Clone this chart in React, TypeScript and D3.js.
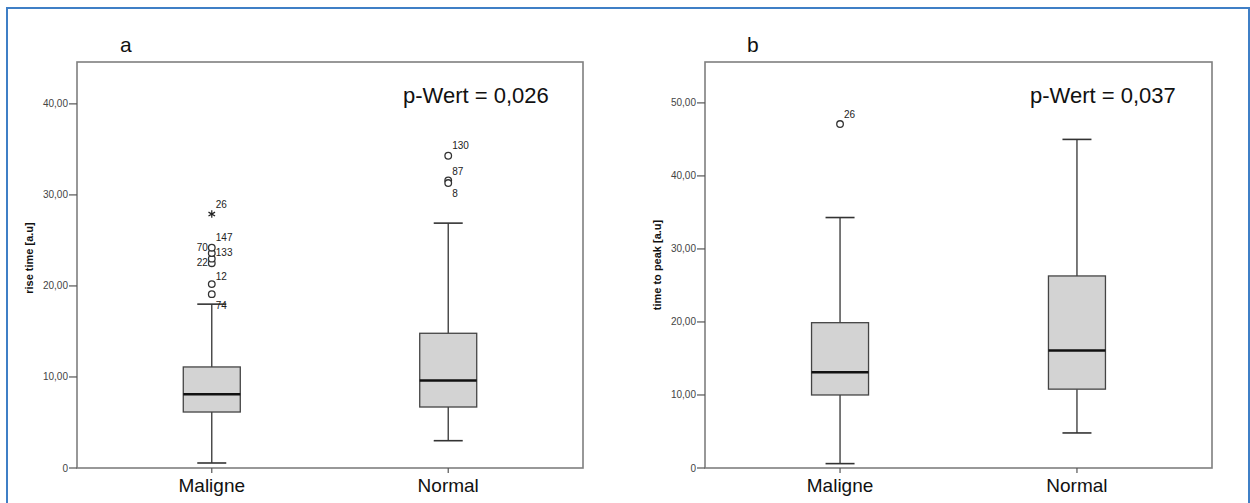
import React from "react";
import * as d3 from "d3";

// ---------- data ----------
const categories = ["Maligne", "Normal"];

// panel a: rise time
const riseLowerWhisker = [0.55, 3.0];
const riseQ1 = [6.15, 6.7];
const riseMedian = [8.1, 9.6];
const riseQ3 = [11.1, 14.8];
const riseUpperWhisker = [18.0, 26.9];
const riseOutlierCat = [0, 0, 0, 0, 0, 0, 0, 1, 1, 1];
const riseOutlierValue = [19.1, 20.2, 22.5, 23.0, 23.6, 24.2, 27.9, 34.3, 31.6, 31.3];
const riseOutlierId = ["74", "12", "22", "133", "70", "147", "26", "130", "87", "8"];
const riseOutlierExtreme = [false, false, false, false, false, false, true, false, false, false];
// label placement: side (1 right, -1 left) and vertical offset
const riseLabelSide = [1, 1, -1, 1, -1, 1, 1, 1, 1, 1];
const riseLabelDy = [11, -8, -1, -6, -6, -10, -10, -10, -9, 10];

// panel b: time to peak
const ttpLowerWhisker = [0.6, 4.8];
const ttpQ1 = [10.0, 10.8];
const ttpMedian = [13.1, 16.1];
const ttpQ3 = [19.9, 26.3];
const ttpUpperWhisker = [34.3, 45.0];
const ttpOutlierCat = [0];
const ttpOutlierValue = [47.1];
const ttpOutlierId = ["26"];
const ttpOutlierExtreme = [false];
const ttpLabelSide = [1];
const ttpLabelDy = [-10];

const riseTicks = [0, 10, 20, 30, 40];
const ttpTicks = [0, 10, 20, 30, 40, 50];
const fmt = (v: number) => (v === 0 ? "0" : v.toFixed(2).replace(".", ","));

type PanelProps = {
  x0: number; x1: number; y0: number; y1: number;
  yMax: number; ticks: number[]; yTitle: string; titleX: number; titleY: number;
  letter: string; letterX: number; pText: string; pX: number;
  lw: number[]; q1: number[]; med: number[]; q3: number[]; uw: number[];
  oCat: number[]; oVal: number[]; oId: string[]; oExt: boolean[]; oSide: number[]; oDy: number[];
};

const FONT = "'Liberation Sans', Arial, sans-serif";

function Panel(p: PanelProps) {
  const y = d3.scaleLinear().domain([0, p.yMax]).range([p.y1, p.y0]);
  const x = d3.scalePoint<string>().domain(categories).range([p.x0, p.x1]).padding(0.57);
  const boxW = 57;
  const capW = 29;
  const star = d3.symbol().type(d3.symbolAsterisk).size(40)();
  return (
    <g>
      <text x={p.letterX} y={52} fontFamily={FONT} fontSize={21} fill="#111">{p.letter}</text>
      {/* frame */}
      <rect x={p.x0} y={p.y0} width={p.x1 - p.x0} height={p.y1 - p.y0} fill="none" stroke="#7f7f7f" strokeWidth={1.6} />
      {/* y ticks */}
      {p.ticks.map((t) => (
        <g key={t}>
          <line x1={p.x0 - 8} x2={p.x0} y1={y(t)} y2={y(t)} stroke="#555" strokeWidth={1.2} />
          <text x={p.x0 - 9} y={y(t)} dy="0.35em" textAnchor="end" fontFamily={FONT} fontSize={10} fill="#444">{fmt(t)}</text>
        </g>
      ))}
      <text transform={`translate(${p.titleX},${p.titleY}) rotate(-90)`} textAnchor="middle" fontFamily={FONT} fontSize={11} fontWeight="bold" fill="#111">{p.yTitle}</text>
      {/* x ticks and labels */}
      {categories.map((c) => (
        <g key={c}>
          <line x1={x(c)!} x2={x(c)!} y1={p.y1} y2={p.y1 + 5} stroke="#555" strokeWidth={1.2} />
          <text x={x(c)!} y={492} textAnchor="middle" fontFamily={FONT} fontSize={19} fill="#111">{c}</text>
        </g>
      ))}
      {/* boxes */}
      {categories.map((c, i) => {
        const cx = x(c)!;
        return (
          <g key={c}>
            <line x1={cx} x2={cx} y1={y(p.lw[i])} y2={y(p.q1[i])} stroke="#333" strokeWidth={1.3} />
            <line x1={cx} x2={cx} y1={y(p.q3[i])} y2={y(p.uw[i])} stroke="#333" strokeWidth={1.3} />
            <line x1={cx - capW / 2} x2={cx + capW / 2} y1={y(p.lw[i])} y2={y(p.lw[i])} stroke="#333" strokeWidth={1.6} />
            <line x1={cx - capW / 2} x2={cx + capW / 2} y1={y(p.uw[i])} y2={y(p.uw[i])} stroke="#333" strokeWidth={1.6} />
            <rect x={cx - boxW / 2} y={y(p.q3[i])} width={boxW} height={y(p.q1[i]) - y(p.q3[i])} fill="#d3d3d3" stroke="#444" strokeWidth={1.3} />
            <line x1={cx - boxW / 2} x2={cx + boxW / 2} y1={y(p.med[i])} y2={y(p.med[i])} stroke="#111" strokeWidth={2.5} />
          </g>
        );
      })}
      {/* outliers */}
      {p.oVal.map((v, k) => {
        const cx = x(categories[p.oCat[k]])!;
        const cy = y(v);
        return (
          <g key={k}>
            {p.oExt[k] ? (
              <path d={star!} transform={`translate(${cx},${cy})`} fill="none" stroke="#222" strokeWidth={1.2} />
            ) : (
              <circle cx={cx} cy={cy} r={3.3} fill="#fff" stroke="#333" strokeWidth={1.3} />
            )}
            <text x={cx + p.oSide[k] * 4} y={cy + p.oDy[k]} dy="0.35em" textAnchor={p.oSide[k] > 0 ? "start" : "end"} fontFamily={FONT} fontSize={10} fill="#222">{p.oId[k]}</text>
          </g>
        );
      })}
      <text x={p.pX} y={103} fontFamily={FONT} fontSize={22} fill="#111">{p.pText}</text>
    </g>
  );
}

export default function App() {
  return (
    <svg width={1250} height={503} style={{ position: "absolute", left: 0, top: 0, background: "#fff" }}>
      <rect x={0} y={0} width={1250} height={503} fill="#fff" />
      <rect x={7} y={8} width={1242} height={520} fill="none" stroke="#3f7fc6" strokeWidth={2} />
      <Panel x0={77} x1={583} y0={62} y1={468} yMax={44.6} ticks={riseTicks} yTitle="rise time [a.u]" titleX={33} titleY={258}
        letter="a" letterX={120} pText="p-Wert = 0,026" pX={403}
        lw={riseLowerWhisker} q1={riseQ1} med={riseMedian} q3={riseQ3} uw={riseUpperWhisker}
        oCat={riseOutlierCat} oVal={riseOutlierValue} oId={riseOutlierId} oExt={riseOutlierExtreme} oSide={riseLabelSide} oDy={riseLabelDy} />
      <Panel x0={705} x1={1212} y0={62} y1={468} yMax={55.6} ticks={ttpTicks} yTitle="time to peak [a.u]" titleX={661} titleY={265}
        letter="b" letterX={747} pText="p-Wert = 0,037" pX={1030}
        lw={ttpLowerWhisker} q1={ttpQ1} med={ttpMedian} q3={ttpQ3} uw={ttpUpperWhisker}
        oCat={ttpOutlierCat} oVal={ttpOutlierValue} oId={ttpOutlierId} oExt={ttpOutlierExtreme} oSide={ttpLabelSide} oDy={ttpLabelDy} />
    </svg>
  );
}
